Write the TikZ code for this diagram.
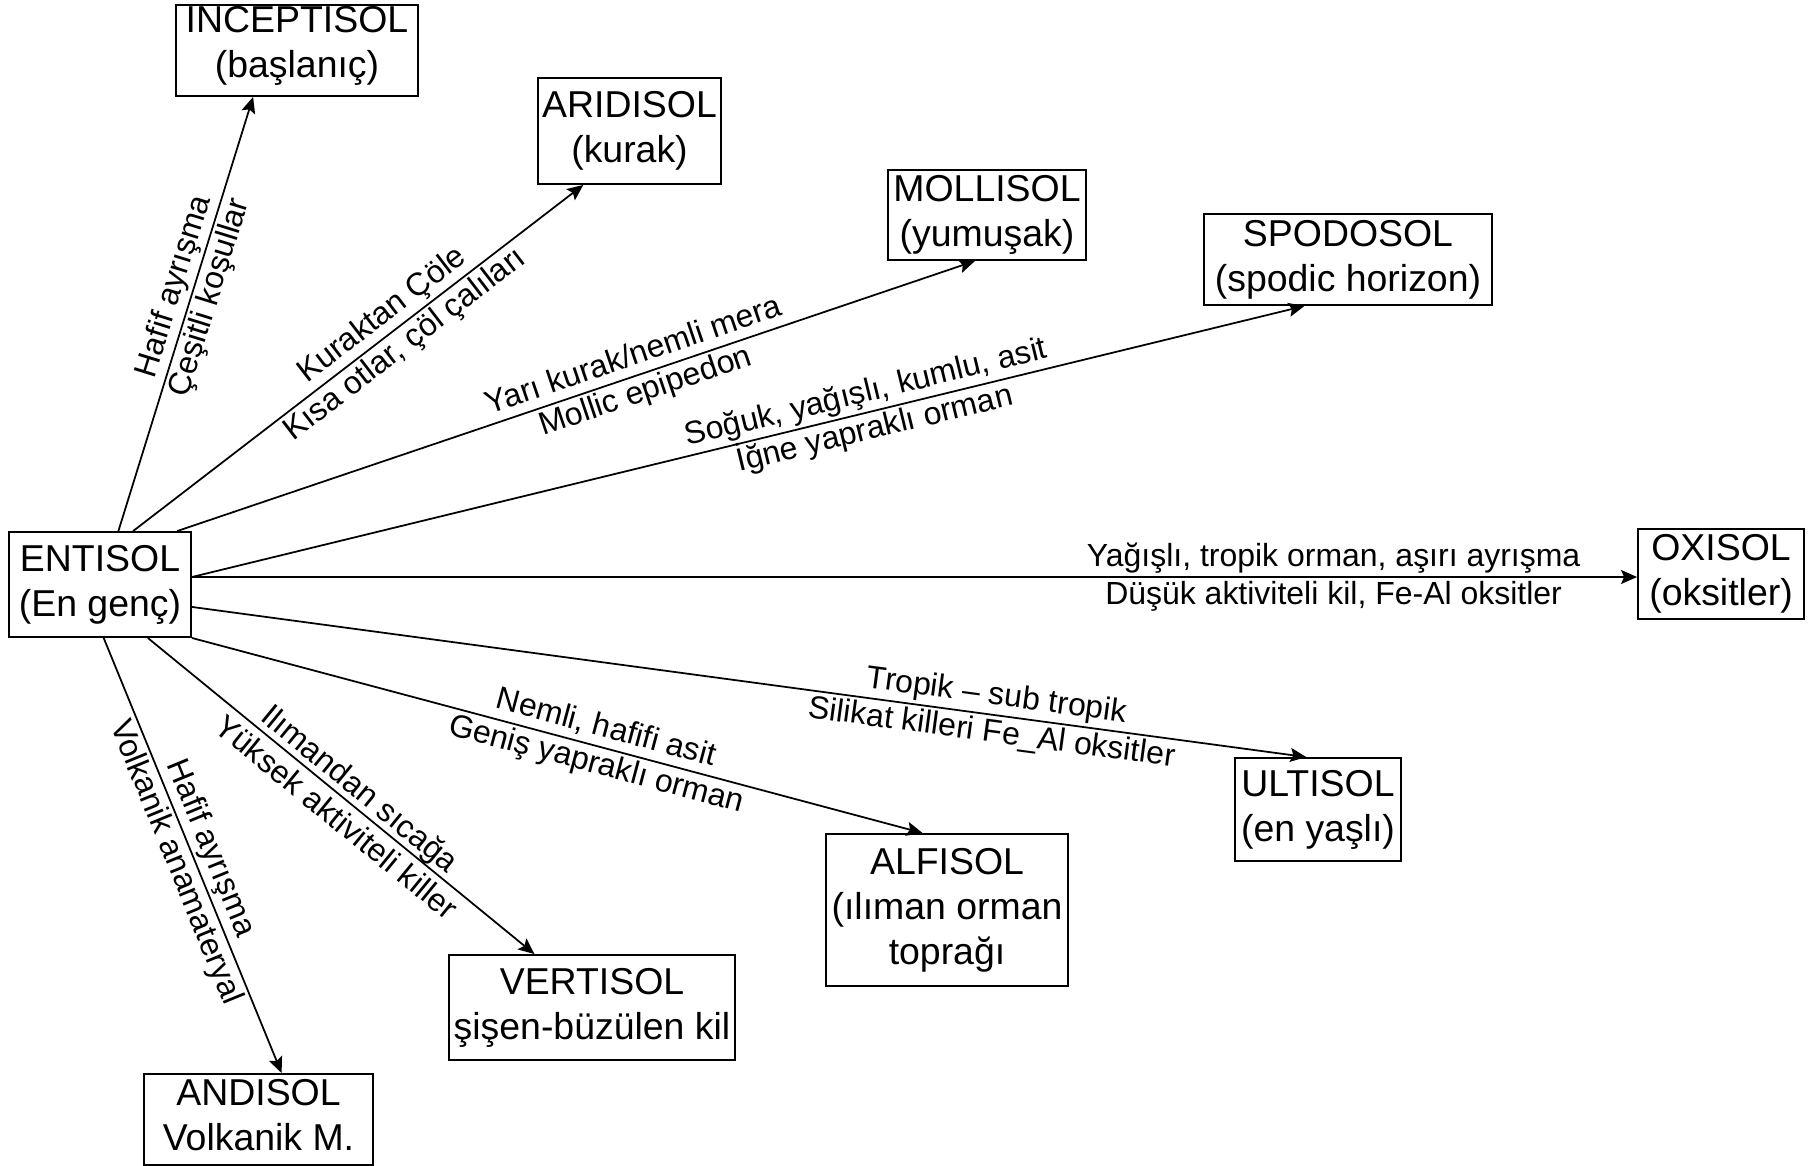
\documentclass[tikz,border=0pt]{standalone}
\usepackage{fontspec}
\setmainfont{Liberation Sans}
\usetikzlibrary{arrows.meta,calc}
\tikzset{
  soil/.style={
    draw, line width=1.1pt, align=center, inner sep=0pt,
    font=\fontsize{21.3}{25.6}\selectfont
  },
  cond/.style={
    sloped, align=center, inner sep=0pt,
    font=\fontsize{18.2}{21.3}\selectfont
  },
  arrow/.style={-{Stealth[length=3.2mm,width=2.8mm,inset=0.6mm]}, line width=1pt}
}
\begin{document}
\begin{tikzpicture}[x=0.02cm, y=-0.02cm]
  \useasboundingbox (0,0) rectangle (1809,1166);

  \node[soil, minimum width=3.64cm, minimum height=2.10cm] (entisol) at (100,584.5) {ENTISOL\\(En genç)};
  \node[soil, minimum width=4.84cm, minimum height=1.82cm, text depth=0.36cm] (incept) at (297,50.5) {INCEPTISOL\\(başlanıç)};
  \node[soil, minimum width=3.66cm, minimum height=2.12cm] (aridi) at (629.5,131) {ARIDISOL\\(kurak)};
  \node[soil, minimum width=3.96cm, minimum height=1.80cm] (molli) at (987,215) {MOLLISOL\\(yumuşak)};
  \node[soil, minimum width=5.76cm, minimum height=1.82cm] (spodo) at (1348,259.5) {SPODOSOL\\(spodic horizon)};
  \node[soil, minimum width=3.32cm, minimum height=1.80cm] (oxi) at (1721,574) {OXISOL\\(oksitler)};
  \node[soil, minimum width=3.32cm, minimum height=2.06cm] (ulti) at (1318,809.5) {ULTISOL\\(en yaşlı)};
  \node[soil, minimum width=4.84cm, minimum height=3.04cm] (alfi) at (947,910) {ALFISOL\\(ılıman orman\\toprağı};
  \node[soil, minimum width=5.72cm, minimum height=2.10cm] (verti) at (592,1007.5) {VERTISOL\\şişen-büzülen kil};
  \node[soil, minimum width=4.58cm, minimum height=1.82cm, text depth=0.2cm] (andi) at (258.5,1119.5) {ANDISOL\\Volkanik M.};

  \coordinate (entright) at ($(entisol.north east)!0.43!(entisol.south east)$);

  \draw[arrow] ($(entisol.north west)!0.6!(entisol.north east)$) -- node[cond, pos=0.55] {Hafif ayrışma\\Çeşitli koşullar} ($(incept.south west)!0.32!(incept.south east)$);
  \draw[arrow] ($(entisol.north west)!0.68!(entisol.north east)$) -- node[cond, pos=0.58] {Kuraktan Çöle\\Kısa otlar, çöl çalıları} ($(aridi.south west)!0.25!(aridi.south east)$);
  \draw[arrow] ($(entisol.north west)!0.92!(entisol.north east)$) -- node[cond, pos=0.58] {Yarı kurak/nemli mera\\Mollic epipedon} ($(molli.south west)!0.44!(molli.south east)$);
  \draw[arrow] (entright) -- node[cond, pos=0.61] {Soğuk, yağışlı, kumlu, asit\\İğne yapraklı orman} ($(spodo.south west)!0.35!(spodo.south east)$);
  \draw[arrow] (entright) -- node[cond, pos=0.79] {Yağışlı, tropik orman, aşırı ayrışma\\Düşük aktiviteli kil, Fe-Al oksitler} (entright -| oxi.west);
  \draw[arrow] ($(entisol.north east)!0.71!(entisol.south east)$) -- node[cond, pos=0.72] {Tropik – sub tropik\\Silikat killeri Fe\_Al oksitler} ($(ulti.north west)!0.43!(ulti.north east)$);
  \draw[arrow] (entisol.south east) -- node[cond, pos=0.56] {Nemli, hafifi asit\\Geniş yapraklı orman} ($(alfi.north west)!0.4!(alfi.north east)$);
  \draw[arrow] ($(entisol.south west)!0.76!(entisol.south east)$) -- node[cond, pos=0.52] {Ilımandan sıcağa\\Yüksek aktiviteli killer} ($(verti.north west)!0.3!(verti.north east)$);
  \draw[arrow] ($(entisol.south west)!0.52!(entisol.south east)$) -- node[cond, pos=0.5] {Hafif ayrışma\\Volkanik anamateryal} ($(andi.north west)!0.6!(andi.north east)$);
\end{tikzpicture}
\end{document}
